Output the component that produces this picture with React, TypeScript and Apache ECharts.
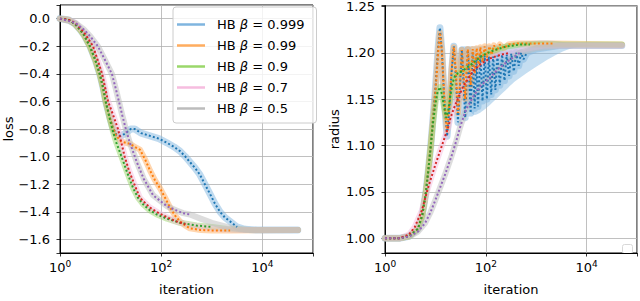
import React, { useEffect, useRef } from 'react';
import * as echarts from 'echarts';

const names = ['HB β = 0.999', 'HB β = 0.99', 'HB β = 0.9', 'HB β = 0.7', 'HB β = 0.5'];
const dotColors = ['#1f77b4', '#ff7f0e', '#2ca02c', '#d62728', '#9467bd'];
const bandColors = ['#7fb5df', '#ffad5f', '#9ad76a', '#f6bddf', '#bcbcbc'];
const xTickExps = [0, 2, 4];

// ---- loss (left panel): [iteration, loss]
const loss999 = [[1,0],[1.5,-0.01],[2,-0.04],[2.5,-0.08],[3,-0.12],[3.9,-0.2],[5,-0.3],[6.2,-0.41],[7.1,-0.5],[8,-0.6],[9.7,-0.72],[11,-0.79],[13,-0.84],[16,-0.85],[20,-0.83],[25,-0.8],[30,-0.8],[40,-0.83],[60,-0.85],[90,-0.87],[130,-0.9],[180,-0.93],[235,-0.96],[300,-1.0],[370,-1.04],[460,-1.08],[580,-1.13],[730,-1.2],[920,-1.27],[1150,-1.34],[1450,-1.4],[1800,-1.44],[2300,-1.47],[3150,-1.51]];
const loss99 = [[1,0],[1.5,-0.01],[2,-0.04],[2.5,-0.08],[3,-0.12],[3.9,-0.2],[5,-0.3],[6.2,-0.41],[7.1,-0.5],[8,-0.6],[9.7,-0.72],[11,-0.79],[13,-0.85],[16,-0.89],[20,-0.9],[25,-0.91],[30,-0.93],[38,-0.95],[48,-1.02],[60,-1.1],[75,-1.17],[95,-1.23],[120,-1.3],[150,-1.37],[190,-1.43],[235,-1.47],[300,-1.5],[370,-1.52],[600,-1.532],[1000,-1.535],[2300,-1.535]];
const loss9 = [[1,0],[1.5,-0.01],[2,-0.04],[2.5,-0.08],[3,-0.12],[3.9,-0.2],[5,-0.3],[6.2,-0.41],[7.1,-0.5],[8,-0.6],[9.7,-0.73],[11,-0.81],[13,-0.9],[15,-0.96],[18,-1.04],[21,-1.11],[28,-1.23],[35,-1.3],[45,-1.35],[60,-1.39],[82,-1.42],[130,-1.45],[235,-1.48],[500,-1.5],[1000,-1.51]];
const loss7 = [[1,0],[1.5,-0.01],[2,-0.03],[3,-0.1],[4.5,-0.2],[6.8,-0.4],[8.9,-0.6],[11,-0.69],[14,-0.8],[19,-1.0],[23,-1.1],[28,-1.18],[38,-1.3],[60,-1.37],[90,-1.41],[130,-1.44],[200,-1.47],[300,-1.49]];
const loss5 = [[1,0],[2,-0.03],[3,-0.08],[4,-0.13],[5.6,-0.2],[7.5,-0.29],[10.6,-0.4],[12.5,-0.5],[14.6,-0.6],[17,-0.7],[20,-0.8],[24,-0.9],[33,-1.04],[45,-1.16],[69,-1.28],[130,-1.36],[200,-1.39],[270,-1.41],[370,-1.42]];
// band tails (runs continue after the dotted curves stop)
const lossTail999 = [[4500,-1.527],[8000,-1.533],[50000,-1.533]];
const lossTail99 = [[50000,-1.533]];
const lossTail9 = [[2000,-1.525],[5000,-1.533],[50000,-1.533]];
const lossTail7 = [[600,-1.51],[1500,-1.525],[4000,-1.533],[50000,-1.533]];
const lossTail5 = [[600,-1.45],[1000,-1.48],[2000,-1.51],[3500,-1.525],[6000,-1.533],[50000,-1.533]];

// ---- radius (right panel): [iteration, radius]
const rad999 = [[1,1.0],[2,1.0],[3,1.002],[4.5,1.01],[5.5,1.025],[6.5,1.05],[7.3,1.075],[8.1,1.1],[9,1.13],[9.8,1.155],[10.7,1.185],[11.5,1.21],[12.3,1.227],[13.5,1.2],[15,1.15],[17,1.11],[19,1.14],[21,1.18],[23.2,1.207],[25.5,1.175],[28,1.125],[30.5,1.16],[33.5,1.203],[36,1.17],[39,1.13],[41,1.16],[44,1.203],[47,1.17],[50,1.135],[52,1.165],[55,1.2],[60,1.14],[65,1.195],[70,1.142],[78,1.198],[86,1.148],[95,1.197],[105,1.15],[115,1.196],[128,1.155],[140,1.196],[155,1.16],[170,1.197],[190,1.165],[210,1.198],[235,1.17],[260,1.198],[290,1.175],[320,1.199],[360,1.18],[400,1.2],[450,1.186],[500,1.2],[560,1.193],[650,1.2]];
const rad99 = [[1,1.0],[2,1.0],[3,1.002],[4.5,1.01],[5.5,1.025],[6.5,1.05],[7.3,1.075],[8.1,1.1],[9,1.13],[9.8,1.15],[10.7,1.18],[11.5,1.205],[12.3,1.222],[13.5,1.2],[15,1.15],[17,1.115],[19,1.145],[21,1.182],[23.2,1.206],[25.5,1.18],[28,1.135],[30.5,1.165],[33.5,1.203],[36,1.18],[39,1.15],[41,1.175],[44,1.204],[47,1.185],[50,1.165],[52,1.18],[55,1.204],[60,1.178],[66,1.205],[72,1.185],[78,1.206],[86,1.19],[95,1.207],[105,1.195],[118,1.207],[130,1.198],[145,1.208],[165,1.202],[190,1.209],[230,1.205],[280,1.209],[400,1.21],[800,1.21],[2300,1.21]];
const rad9 = [[1,1.0],[2,1.0],[3,1.002],[4.5,1.01],[5.5,1.025],[6.5,1.05],[7.3,1.075],[8.1,1.1],[9,1.125],[10,1.145],[11,1.157],[12.3,1.163],[13.5,1.155],[15,1.14],[16.5,1.13],[18,1.138],[20,1.155],[22,1.168],[24.5,1.175],[28,1.178],[33,1.18],[40,1.183],[50,1.187],[65,1.192],[85,1.197],[110,1.2],[150,1.203],[260,1.207],[500,1.209],[750,1.209]];
const rad7 = [[1,1.0],[2,1.0],[3,1.004],[3.9,1.012],[5.4,1.03],[7.1,1.054],[9.8,1.078],[13.5,1.1],[18,1.12],[20,1.13],[24,1.142],[35,1.163],[55,1.18],[80,1.188],[120,1.194],[200,1.198],[300,1.2]];
const rad5 = [[1,1.0],[2,1.0],[3.1,1.002],[4.5,1.007],[6.2,1.016],[8,1.028],[9.8,1.04],[12.5,1.055],[15.4,1.068],[21,1.089],[26,1.105],[31,1.12],[40,1.138],[55,1.152],[80,1.165],[120,1.173],[180,1.183],[260,1.19],[470,1.2]];
const radTail999 = [[1000,1.204],[3000,1.208],[50000,1.208]];
const radTail99 = [[50000,1.209]];
const radTail9 = [[50000,1.209]];
const radTail7 = [[600,1.204],[1500,1.208],[50000,1.208]];
const radTail5 = [[1000,1.205],[3000,1.208],[50000,1.208]];
// spread of the beta=0.999 runs (light blue wedge)
const radFillIters = [30, 45, 60, 100, 200, 400, 1000, 2000, 4000, 8000, 15000];
const radFillLow = [1.16, 1.14, 1.133, 1.14, 1.155, 1.17, 1.185, 1.195, 1.203, 1.207, 1.208];
const radFillHigh = [1.205, 1.207, 1.207, 1.208, 1.209, 1.211, 1.213, 1.213, 1.211, 1.209, 1.208];

const lossDots = [loss999, loss99, loss9, loss7, loss5];
const lossTails = [lossTail999, lossTail99, lossTail9, lossTail7, lossTail5];
const radDots = [rad999, rad99, rad9, rad7, rad5];
const radTails = [radTail999, radTail99, radTail9, radTail7, radTail5];

const font = 'DejaVu Sans';

function xAxis(gridIndex: number) {
  return {
    type: 'log', logBase: 10, gridIndex, min: 1, max: 100000, interval: 2, splitNumber: 3,
    name: 'iteration', nameLocation: 'middle', nameGap: 30,
    nameTextStyle: { fontFamily: font, fontSize: 13, color: '#000' },
    axisLine: { show: true, onZero: false, lineStyle: { color: '#000', width: 1 } },
    axisTick: { show: true, length: 3.5, lineStyle: { color: '#000', width: 0.8 } },
    minorTick: { show: false },
    axisLabel: {
      margin: 6,
      formatter: (v: number) => {
        const e = Math.round(Math.log10(v));
        return xTickExps.includes(e) && Math.abs(Math.log10(v) - e) < 1e-6 ? `{b|10}{e|${e}}` : '';
      },
      rich: {
        b: { fontFamily: font, fontSize: 13, color: '#000' },
        e: { fontFamily: font, fontSize: 9, color: '#000', padding: [0, 0, 8, 0] },
      },
    },
    splitLine: { show: true, lineStyle: { color: '#b0b0b0', width: 0.8 } },
  };
}

function yAxis(gridIndex: number, name: string, min: number, max: number, split: number, step: number, dec: number) {
  return {
    type: 'value', gridIndex, min, max, splitNumber: split,
    name, nameLocation: 'middle', nameGap: 44,
    nameTextStyle: { fontFamily: font, fontSize: 13, color: '#000' },
    axisLine: { show: true, onZero: false, lineStyle: { color: '#000', width: 1 } },
    axisTick: { show: true, length: 3.5, lineStyle: { color: '#000', width: 0.8 } },
    axisLabel: {
      margin: 10, fontFamily: font, fontSize: 13, color: '#000',
      formatter: (v: number) => {
        const k = v / step;
        if (Math.abs(k - Math.round(k)) > 1e-6) return '';
        const s = (Math.round(k) * step).toFixed(dec);
        return s.replace('-', '\u2212');
      },
    },
    splitLine: { show: true, lineStyle: { color: '#b0b0b0', width: 0.8 } },
  };
}

function buildOption() {
  const series: any[] = [];
  // light-blue spread wedge on radius panel
  series.push({
    type: 'custom', xAxisIndex: 1, yAxisIndex: 1, silent: true, clip: true,
    data: [[100, 1.17]],
    renderItem: (_p: any, api: any) => {
      const up = radFillIters.map((x, i) => api.coord([x, radFillHigh[i]]));
      const lo = radFillIters.map((x, i) => api.coord([x, radFillLow[i]])).reverse();
      return { type: 'polygon', shape: { points: up.concat(lo), smooth: 0.3 }, style: { fill: bandColors[0], opacity: 0.45 } };
    },
  });
  // bands
  for (let i = 0; i < 5; i++) {
    series.push({
      type: 'line', name: names[i], xAxisIndex: 0, yAxisIndex: 0, symbol: 'none', silent: true,
      data: lossDots[i].concat(lossTails[i]),
      lineStyle: { color: bandColors[i], width: i === 0 ? 7 : 6, opacity: 0.5, cap: 'round', join: 'round' },
      itemStyle: { color: bandColors[i] },
    });
    series.push({
      type: 'line', name: names[i], xAxisIndex: 1, yAxisIndex: 1, symbol: 'none', silent: true,
      data: radDots[i].concat(radTails[i]),
      lineStyle: { color: bandColors[i], width: i === 0 ? 7 : 6, opacity: 0.5, cap: 'round', join: 'round' },
      itemStyle: { color: bandColors[i] },
    });
  }
  // dotted curves
  for (let i = 0; i < 5; i++) {
    series.push({
      type: 'line', name: names[i] + ' (dots)', xAxisIndex: 0, yAxisIndex: 0, symbol: 'none', silent: true,
      data: lossDots[i],
      lineStyle: { color: dotColors[i], width: 2, type: [2, 2.2], cap: 'butt' },
    });
    series.push({
      type: 'line', name: names[i] + ' (dots)', xAxisIndex: 1, yAxisIndex: 1, symbol: 'none', silent: true,
      data: radDots[i],
      lineStyle: { color: dotColors[i], width: 2, type: [2, 2.2], cap: 'butt' },
    });
  }

  return {
    animation: false,
    backgroundColor: '#fff',
    grid: [
      { left: 60, top: 5, width: 253, height: 255, show: true, borderColor: '#000', borderWidth: 1, backgroundColor: 'transparent' },
      { left: 385, top: 5, width: 253, height: 255, show: true, borderColor: '#000', borderWidth: 1, backgroundColor: 'transparent' },
    ],
    xAxis: [xAxis(0), xAxis(1)],
    yAxis: [
      yAxis(0, 'loss', -1.699, 0.099, 9, 0.2, 1),
      yAxis(1, 'radius', 0.984, 1.251, 5, 0.05, 2),
    ],
    legend: {
      show: true, orient: 'vertical', left: 173, top: 7, selectedMode: false,
      data: names.map((n, i) => ({ name: n, icon: 'rect', itemStyle: { color: bandColors[i], opacity: 1 } })),
      itemWidth: 28, itemHeight: 2.5, itemGap: 8,
      padding: [11, 12, 8, 4],
      backgroundColor: 'rgba(255,255,255,0.8)', borderColor: '#cccccc', borderWidth: 1, borderRadius: 3,
      textStyle: {
        fontFamily: font, fontSize: 13, color: '#000', padding: [0, 0, 0, 7],
        rich: { i: { fontFamily: font, fontSize: 13, fontStyle: 'italic', color: '#000' } },
      },
      formatter: (n: string) => 'HB {i|β} = ' + n.split('= ')[1],
    },
    graphic: [
      { type: 'rect', left: 622, top: 244, shape: { width: 10, height: 9, r: 2 }, style: { fill: '#fff', stroke: '#d8d8d8', lineWidth: 1 }, silent: true },
    ],
    series,
  };
}

export default function App() {
  const ref = useRef<HTMLDivElement>(null);
  useEffect(() => {
    document.body.style.margin = '0';
    const chart = echarts.init(ref.current!, null, { renderer: 'svg' });
    chart.setOption(buildOption() as any);
    return () => chart.dispose();
  }, []);
  return <div ref={ref} style={{ width: 640, height: 301 }} />;
}
